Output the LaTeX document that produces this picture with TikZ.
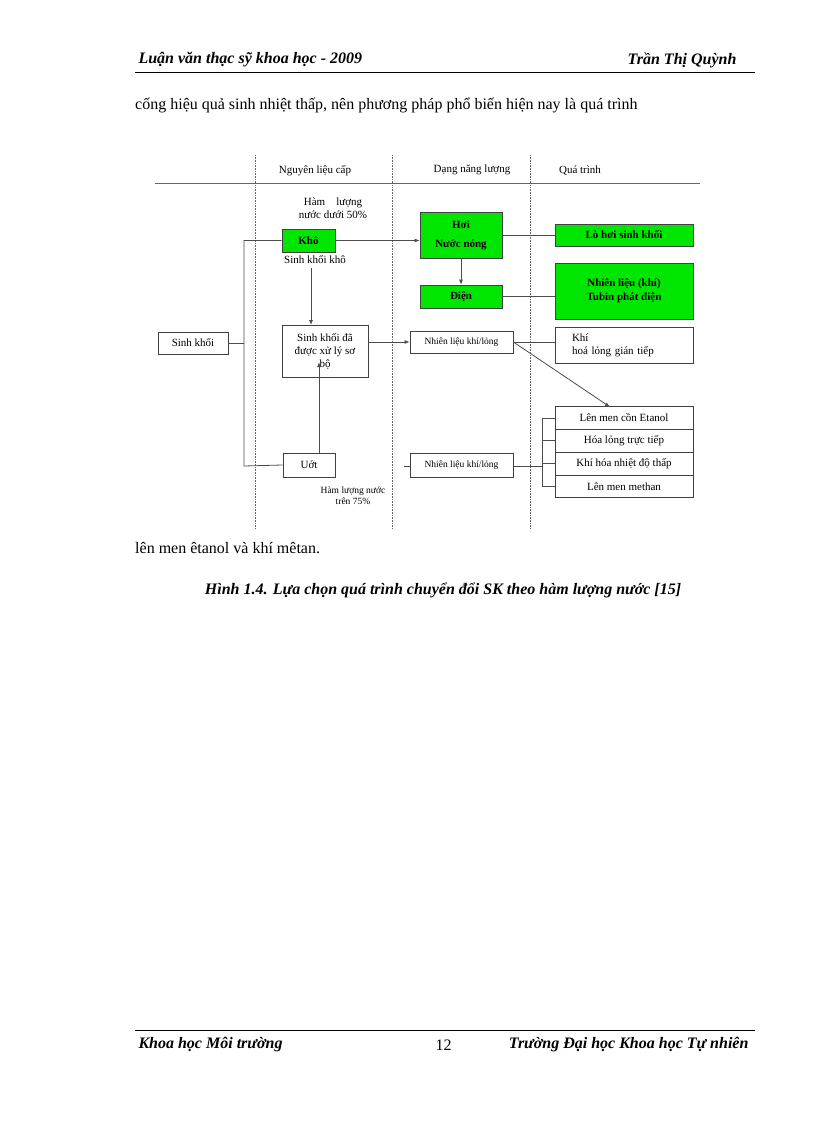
\documentclass[tikz,border=0pt]{standalone}
\usepackage{fontspec}
\setmainfont{Liberation Serif}
\usetikzlibrary{arrows.meta}
\definecolor{gr}{RGB}{0,230,0}
\begin{document}
\begin{tikzpicture}[x=1pt,y=-1pt,
 box/.style={draw=black!75,line width=0.8pt,inner sep=1pt,font=\fontsize{11}{13}\selectfont,align=center},
 gbox/.style={box,fill=gr,font=\fontsize{11}{14}\selectfont\bfseries},
 ln/.style={draw=black!70,line width=0.8pt},
 ar/.style={ln,-{Latex[length=5pt,width=4pt]}},
 sm/.style={font=\fontsize{11}{13}\selectfont,align=center,inner sep=0pt},
 dl/.style={draw=black!60,densely dotted,line width=0.6pt}]
\useasboundingbox (0,0) rectangle (816,1123);
% page header
\node[anchor=west,font=\fontsize{16}{18}\selectfont\bfseries\itshape] (h1) at (135,60) {Luận văn thạc sỹ khoa học - 2009};
\node[anchor=east,font=\fontsize{16}{18}\selectfont\bfseries\itshape] (h2) at (740,60) {Trần Thị Quỳnh};
\draw[line width=0.8pt] (135,72) -- (755,72);
\node[anchor=west,font=\fontsize{16}{18}\selectfont,text width=617pt,align=justify,inner sep=0pt] (p1) at (135,105) {cống hiệu quả sinh nhiệt thấp, nên phương pháp phổ biến hiện nay là quá trình};
% grid
\foreach \x in {255,392,530} \draw[dl] (\x,155) -- (\x,528);
\draw[black!60,line width=0.7pt,double,double distance=0.8pt] (155,184) -- (700,184);
\node[sm] (c1) at (315,171) {Nguyên liệu cấp};
\node[sm] (c2) at (472,170) {Dạng năng lượng};
\node[sm] (c3) at (580,171) {Quá trình};
% nodes
\node[box,minimum width=70,minimum height=22] (sk) at (193,343) {Sinh khối};
\node[gbox,minimum width=53,minimum height=23] (kho) at (308.5,240.5) {Khô};
\node[sm] (hl1) at (333,208) {Hàm\quad lượng\\nước dưới 50\%};
\node[sm] (skk) at (315,260) {Sinh khối khô};
\node[gbox,minimum width=82,minimum height=46] (hoi) at (461,235) {Hơi\\[5pt]Nước nóng};
\node[gbox,minimum width=82,minimum height=23] (dien) at (461,296.5) {Điện};
\node[gbox,minimum width=138,minimum height=22] (lo) at (624,235) {Lò hơi sinh khối};
\node[gbox,minimum width=138,minimum height=56] (nlk) at (624,291) {Nhiên liệu (khí)\\Tubin phát điện};
\node[box,minimum width=86,minimum height=52] (skd) at (325,351) {Sinh khối đã\\được xử lý sơ\\bộ};
\node[box,minimum width=103,minimum height=22,font=\fontsize{9.5}{11}\selectfont] (nl1) at (461.5,342) {Nhiên liệu khí/lỏng};
\node[box,minimum width=138,minimum height=36,align=left,text width=104pt] (khi) at (624,345) {Khí\\hoá lỏng gián tiếp};
\node[box,minimum width=138,minimum height=22.5] (s1) at (624,418) {Lên men cồn Etanol};
\node[box,minimum width=138,minimum height=23] (s2) at (624,440.75) {Hóa lỏng trực tiếp};
\node[box,minimum width=138,minimum height=23] (s3) at (624,463.75) {Khí hóa nhiệt độ thấp};
\node[box,minimum width=138,minimum height=22.5] (s4) at (624,486.25) {Lên men methan};
\node[box,minimum width=52,minimum height=24] (uot) at (309,465) {Uớt};
\node[box,minimum width=103,minimum height=24,font=\fontsize{9.5}{11}\selectfont] (nl2) at (461.5,465) {Nhiên liệu khí/lỏng};
\node[sm,font=\fontsize{9.5}{11}\selectfont] (hl2) at (353,496) {Hàm lượng nước\\trên 75\%};
% connectors
\coordinate (j) at (244,343);
\draw[ln] (sk.east) -- (j);
\draw[ln] (kho.west) -| (244,466) -- (uot.west);
\draw[ar] (kho.east) -- (hoi.west |- kho.east);
\draw[ar] (hoi.south) -- (dien.north);
\draw[ln] (hoi.east |- lo.west) -- (lo.west);
\draw[ln] (dien.east) -- (nlk.west |- dien.east);
\draw[ar] (311,268) -- (311,325);
\draw[ar] (uot.north) ++(10,0) -- (319,362);
\draw[ar] (skd.east |- nl1.west) -- (nl1.west);
\draw[ln] (nl1.east) -- (khi.west |- nl1.east);
\draw[ar] (nl1.east) -- (610,407);
\coordinate (nl2l) at (404,466);
\draw[ln] (nl2l) -- (nl2.west |- nl2l);
\draw[ln] (nl2.east |- nl2l) -- (542,466);
\draw[ln] (542,418) -- (542,486);
\foreach \s in {s1,s2,s3,s4} \draw[ln] (542,0 |- \s.west) -- (\s.west);
% captions
\node[anchor=west,font=\fontsize{16}{18}\selectfont,inner sep=0pt] (t2) at (135,548) {lên men êtanol và khí mêtan.};
\node[font=\fontsize{16}{18}\selectfont\bfseries\itshape] (cap) at (443,590) {Hình 1.4. Lựa chọn quá trình chuyển đổi SK theo hàm lượng nước [15]};
% footer
\draw[line width=0.8pt] (135,1030) -- (755,1030);
\node[anchor=west,font=\fontsize{16}{18}\selectfont\bfseries\itshape] (f1) at (135,1045) {Khoa học Môi trường};
\node[anchor=west,font=\fontsize{16}{18}\selectfont] (f2) at (432,1045) {12};
\node[anchor=east,font=\fontsize{16}{18}\selectfont\bfseries\itshape] (f3) at (752,1045) {Trường Đại học Khoa học Tự nhiên};
\end{tikzpicture}
\end{document}
